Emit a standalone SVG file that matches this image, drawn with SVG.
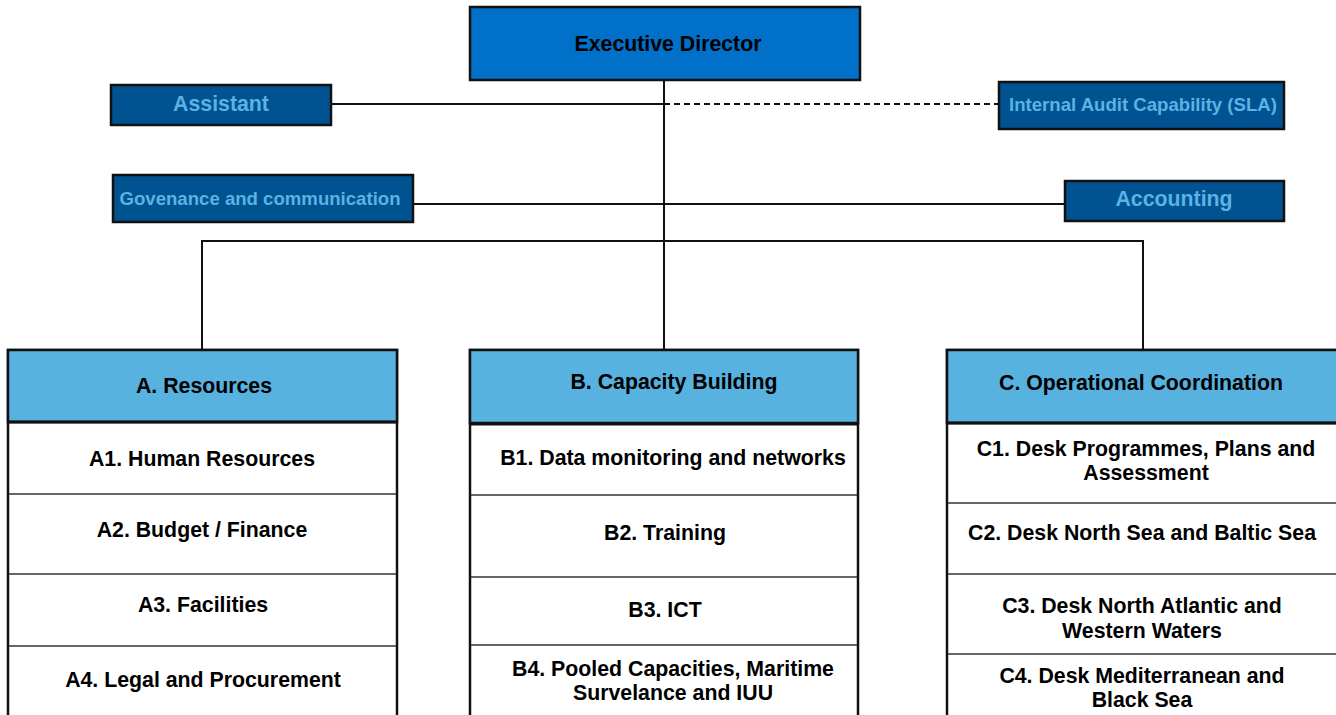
<svg xmlns="http://www.w3.org/2000/svg" width="1336" height="715" viewBox="0 0 1336 715">
<style>
text{font-family:"Liberation Sans",Arial,sans-serif;font-weight:bold;text-anchor:middle;dominant-baseline:central;font-size:21.3px}
.sm{font-size:18.6px}
.top{fill:#0070c8;stroke:#111;stroke-width:2.5}
.side{fill:#005291;stroke:#111;stroke-width:2.5}
.sidet{fill:#5bb3e3}
.head{fill:#57b2df;stroke:#111;stroke-width:2.5}
.cell{fill:#fff;stroke:#111;stroke-width:2.5}
.sep{stroke:#333;stroke-width:1.5;fill:none}
.hb{stroke:#111;stroke-width:3;fill:none}
.dark{fill:#000}
.conn{stroke:#111;stroke-width:2;fill:none}
</style>
<rect width="1336" height="715" fill="#fff"/>
<g id="connectors">
<line class="conn" x1="664" y1="80" x2="664" y2="350"/>
<line class="conn" x1="331" y1="104" x2="664" y2="104"/>
<line class="conn" x1="664" y1="104" x2="998" y2="104" stroke-dasharray="6,4"/>
<line class="conn" x1="413" y1="204" x2="1064" y2="204"/>
<polyline class="conn" points="202,350 202,241 1143,241 1143,350"/>
</g>
<g id="executive-director">
<rect class="top" x="470" y="7" width="390" height="73"/>
<text class="dark" x="668" y="44">Executive Director</text>
</g>
<g id="assistant">
<rect class="side" x="111" y="85" width="220" height="40"/>
<text class="sidet" x="221" y="104">Assistant</text>
</g>
<g id="governance">
<rect class="side" x="113" y="175" width="300" height="47"/>
<text class="sidet sm" x="260" y="198">Govenance and communication</text>
</g>
<g id="internal-audit">
<rect class="side" x="999" y="82" width="285" height="47"/>
<text class="sidet sm" x="1143" y="104">Internal Audit Capability (SLA)</text>
</g>
<g id="accounting">
<rect class="side" x="1065" y="181" width="219" height="40"/>
<text class="sidet" x="1174" y="199">Accounting</text>
</g>
<g id="col-a">
<rect class="cell" x="8" y="350" width="389" height="380"/>
<rect class="head" x="8" y="350" width="389" height="72"/>
<line class="hb" x1="8" y1="422" x2="397" y2="422"/>
<line class="sep" x1="9" y1="494" x2="396" y2="494"/>
<line class="sep" x1="9" y1="574" x2="396" y2="574"/>
<line class="sep" x1="9" y1="646" x2="396" y2="646"/>
<text class="dark" x="204" y="386">A. Resources</text>
<text class="dark" x="202" y="459">A1. Human Resources</text>
<text class="dark" x="202" y="530">A2. Budget / Finance</text>
<text class="dark" x="203" y="605">A3. Facilities</text>
<text class="dark" x="203" y="680">A4. Legal and Procurement</text>
</g>
<g id="col-b">
<rect class="cell" x="470" y="350" width="388" height="380"/>
<rect class="head" x="470" y="350" width="388" height="73"/>
<line class="hb" x1="470" y1="424" x2="858" y2="424" stroke-width="4"/>
<line class="sep" x1="471" y1="495" x2="857" y2="495"/>
<line class="sep" x1="471" y1="577" x2="857" y2="577"/>
<line class="sep" x1="471" y1="645" x2="857" y2="645"/>
<text class="dark" x="674" y="382">B. Capacity Building</text>
<text class="dark" x="673" y="458">B1. Data monitoring and networks</text>
<text class="dark" x="665" y="533">B2. Training</text>
<text class="dark" x="665" y="610">B3. ICT</text>
<text class="dark" x="673" y="669">B4. Pooled Capacities, Maritime</text>
<text class="dark" x="673" y="693">Survelance and IUU</text>
</g>
<g id="col-c">
<rect class="cell" x="947" y="350" width="392" height="380"/>
<rect class="head" x="947" y="350" width="392" height="73"/>
<line class="hb" x1="947" y1="423" x2="1339" y2="423"/>
<line class="sep" x1="948" y1="503" x2="1338" y2="503"/>
<line class="sep" x1="948" y1="574" x2="1338" y2="574"/>
<line class="sep" x1="948" y1="654" x2="1338" y2="654"/>
<text class="dark" x="1141" y="383">C. Operational Coordination</text>
<text class="dark" x="1146" y="449">C1. Desk Programmes, Plans and</text>
<text class="dark" x="1146" y="473">Assessment</text>
<text class="dark" x="1142" y="533">C2. Desk North Sea and Baltic Sea</text>
<text class="dark" x="1142" y="606">C3. Desk North Atlantic and</text>
<text class="dark" x="1142" y="631">Western Waters</text>
<text class="dark" x="1142" y="676">C4. Desk Mediterranean and</text>
<text class="dark" x="1142" y="700">Black Sea</text>
</g>
</svg>
